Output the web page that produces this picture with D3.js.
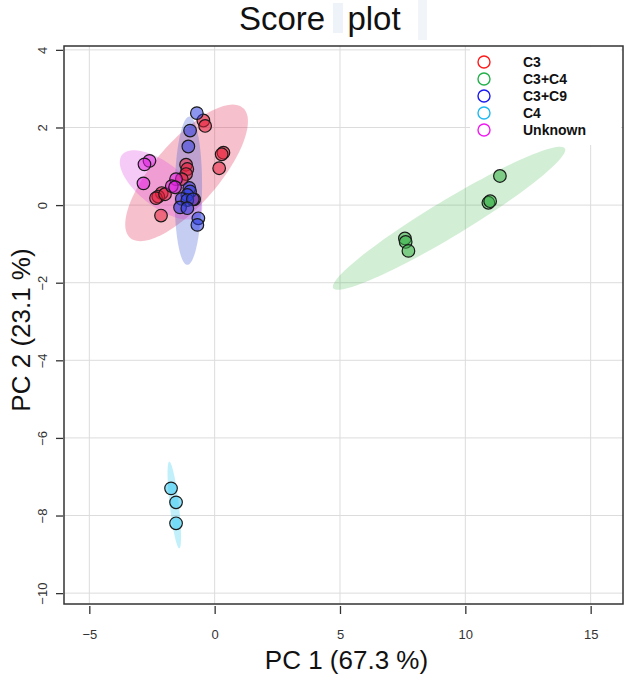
<!DOCTYPE html>
<html>
<head>
<meta charset="utf-8">
<script src="https://cdn.jsdelivr.net/npm/d3@7"></script>
<style>
  html, body { margin: 0; padding: 0; background: #fff; }
  svg { display: block; font-family: "Liberation Sans", Arial, Helvetica, sans-serif; }
</style>
</head>
<body>
<svg id="chart" width="625" height="674"></svg>
<script>
// ---------------- DATA ----------------
const groups = ["C3", "C3+C4", "C3+C9", "C4", "Unknown"];
const groupColors = ["#FF1A1A", "#22B04A", "#1A1AF0", "#1EB8F0", "#F01AF0"];
const pointColors = ["#E8203C", "#34B044", "#3040E0", "#34C8F0", "#E020E0"];
const ellipseColors = ["#E0204A", "#30B040", "#3050D0", "#20C8F0", "#E040E0"];

// PC1 / PC2 scores per group
const pc1_C3 = [-0.45, -0.38, 0.35, 0.28, 0.18, -1.14, -1.09, -1.14, -1.31, -2.11, -2.25, -2.34, -1.98, -0.82, -2.14];
const pc2_C3 = [2.18, 2.04, 1.35, 1.31, 0.95, 1.04, 0.93, 0.80, 0.67, 0.31, 0.22, 0.18, 0.28, 0.15, -0.27];
const pc1_C3C4 = [11.38, 10.92, 10.99, 7.59, 7.62, 7.73];
const pc2_C3C4 = [0.75, 0.06, 0.10, -0.86, -0.95, -1.18];
const pc1_C3C9 = [-0.71, -0.98, -1.05, -1.01, -0.98, -1.09, -1.31, -1.09, -0.87, -1.38, -1.09, -0.65, -0.69];
const pc2_C3C9 = [2.37, 1.92, 1.51, 0.44, 0.35, 0.26, 0.16, 0.13, 0.15, -0.06, -0.08, -0.34, -0.51];
const pc1_C4 = [-1.74, -1.54, -1.54];
const pc2_C4 = [-7.30, -7.66, -8.20];
const pc1_Unknown = [-2.60, -2.80, -2.84, -1.54, -1.71, -1.58];
const pc2_Unknown = [1.14, 1.05, 0.56, 0.67, 0.49, 0.46];

// Confidence ellipses: centre, major-axis vector, minor-axis vector (data units)
const ellipseCenters = [[-1.12, 0.83], [9.35, -0.34], [-1.05, 0.37], [-1.61, -7.73], [-2.14, 0.52]];
const ellipseMajor = [[2.25, 1.675], [4.62, 1.80], [0.04, 1.91], [0.20, -1.116], [1.556, -0.773]];
const ellipseMinor = [[0.965, -0.54], [0.371, -0.397], [0.546, 0.0], [0.18, 0.013], [-0.535, -0.448]];

const xTicks = [-5, 0, 5, 10, 15];
const yTicks = [-10, -8, -6, -4, -2, 0, 2, 4];
const xDomain = [-6.01, 16.29];
const yDomain = [-10.28, 4.10];

const titleText = "Score plot";
const xLabel = "PC 1 (67.3 %)";
const yLabel = "PC 2 (23.1 %)";

// ---------------- BUILD ----------------
const pcs1 = [pc1_C3, pc1_C3C4, pc1_C3C9, pc1_C4, pc1_Unknown];
const pcs2 = [pc2_C3, pc2_C3C4, pc2_C3C9, pc2_C4, pc2_Unknown];
const points = [];
groups.forEach((g, gi) => {
  pcs1[gi].forEach((v, i) => points.push({ g: gi, x: v, y: pcs2[gi][i] }));
});

const svg = d3.select("#chart");
const L = 64, R = 623, T = 46, B = 604;
const x = d3.scaleLinear().domain(xDomain).range([L, R]);
const y = d3.scaleLinear().domain(yDomain).range([B, T]);

// title artefact boxes
svg.append("rect").attr("x", 333).attr("y", 3).attr("width", 10).attr("height", 30).attr("fill", "#eef3f9");
svg.append("rect").attr("x", 418).attr("y", 0).attr("width", 9).attr("height", 40).attr("fill", "#f1f5fa");

// Title
const titleWords = titleText.split(" ");
const title = svg.append("text")
  .attr("x", 239).attr("y", 30)
  .attr("font-size", 33).attr("fill", "#111");
title.append("tspan").text(titleWords[0]);
title.append("tspan").attr("dx", 13).text(" " + titleWords[1]);

// grid
const grid = svg.append("g");
grid.selectAll(".gx").data(xTicks).enter().append("line")
  .attr("x1", d => x(d)).attr("x2", d => x(d)).attr("y1", T).attr("y2", B)
  .attr("stroke", "#dcdcdc").attr("stroke-width", 1);
grid.selectAll(".gy").data(yTicks).enter().append("line")
  .attr("y1", d => y(d)).attr("y2", d => y(d)).attr("x1", L).attr("x2", R)
  .attr("stroke", "#dcdcdc").attr("stroke-width", 1);

// ellipses
const line = d3.line().x(d => x(d[0])).y(d => y(d[1])).curve(d3.curveLinearClosed);
const ellG = svg.append("g");
groups.forEach((g, gi) => {
  const c = ellipseCenters[gi], a = ellipseMajor[gi], b = ellipseMinor[gi];
  const pts = d3.range(0, 360, 3).map(t => {
    const r = t * Math.PI / 180;
    return [c[0] + Math.cos(r) * a[0] + Math.sin(r) * b[0],
            c[1] + Math.cos(r) * a[1] + Math.sin(r) * b[1]];
  });
  ellG.append("path").attr("d", line(pts))
    .attr("fill", ellipseColors[gi]).attr("fill-opacity", gi === 1 ? 0.22 : 0.28)
    .attr("stroke", "none");
});

// points
svg.append("g").selectAll("circle").data(points).enter().append("circle")
  .attr("cx", d => x(d.x)).attr("cy", d => y(d.y)).attr("r", 6.3)
  .attr("fill", d => pointColors[d.g]).attr("fill-opacity", 0.55)
  .attr("stroke", "#1a1a1a").attr("stroke-width", 1.2);

// legend
const leg = svg.append("g");
leg.append("rect").attr("x", 470).attr("y", 47).attr("width", 151).attr("height", 98).attr("fill", "#fff");
groups.forEach((g, gi) => {
  const yy = 62 + gi * 17;
  leg.append("circle").attr("cx", 484).attr("cy", yy).attr("r", 6)
    .attr("fill", "none").attr("stroke", groupColors[gi]).attr("stroke-width", 1.4);
  leg.append("text").attr("x", 523).attr("y", yy + 5)
    .attr("font-size", 14).attr("font-weight", "bold").attr("fill", "#111").text(g);
});

// border
svg.append("rect").attr("x", L).attr("y", T).attr("width", R - L).attr("height", B - T)
  .attr("fill", "none").attr("stroke", "#333").attr("stroke-width", 1.5);

// x axis
const xAxis = svg.append("g").attr("transform", `translate(0,${B + 2})`)
  .call(d3.axisBottom(x).tickValues(xTicks).tickSizeInner(8).tickSizeOuter(0).tickPadding(16)
    .tickFormat(d3.format("d")));
xAxis.select(".domain").remove();
xAxis.selectAll("line").attr("stroke", "#333").attr("stroke-width", 1.3);
xAxis.selectAll("text").attr("font-size", 13).attr("fill", "#333")
  .attr("font-family", "'Liberation Sans', Arial, sans-serif");

// y axis
const yAxis = svg.append("g").attr("transform", `translate(${L - 1},0)`)
  .call(d3.axisLeft(y).tickValues(yTicks).tickSizeInner(7).tickSizeOuter(0)
    .tickFormat(d3.format("d")));
yAxis.select(".domain").remove();
yAxis.selectAll("line").attr("stroke", "#333").attr("stroke-width", 1.3);
yAxis.selectAll("text")
  .attr("transform", "rotate(-90)")
  .attr("x", 0).attr("y", -16).attr("dy", 0)
  .attr("text-anchor", "middle")
  .attr("font-size", 13).attr("fill", "#333")
  .attr("font-family", "'Liberation Sans', Arial, sans-serif");

// axis labels
svg.append("text").attr("x", (L + R) / 2 + 3).attr("y", 669)
  .attr("text-anchor", "middle").attr("font-size", 26).attr("fill", "#111").text(xLabel);
svg.append("text").attr("transform", `translate(30,${(T + B) / 2 + 5}) rotate(-90)`)
  .attr("text-anchor", "middle").attr("font-size", 26).attr("fill", "#111").text(yLabel);
</script>
</body>
</html>
